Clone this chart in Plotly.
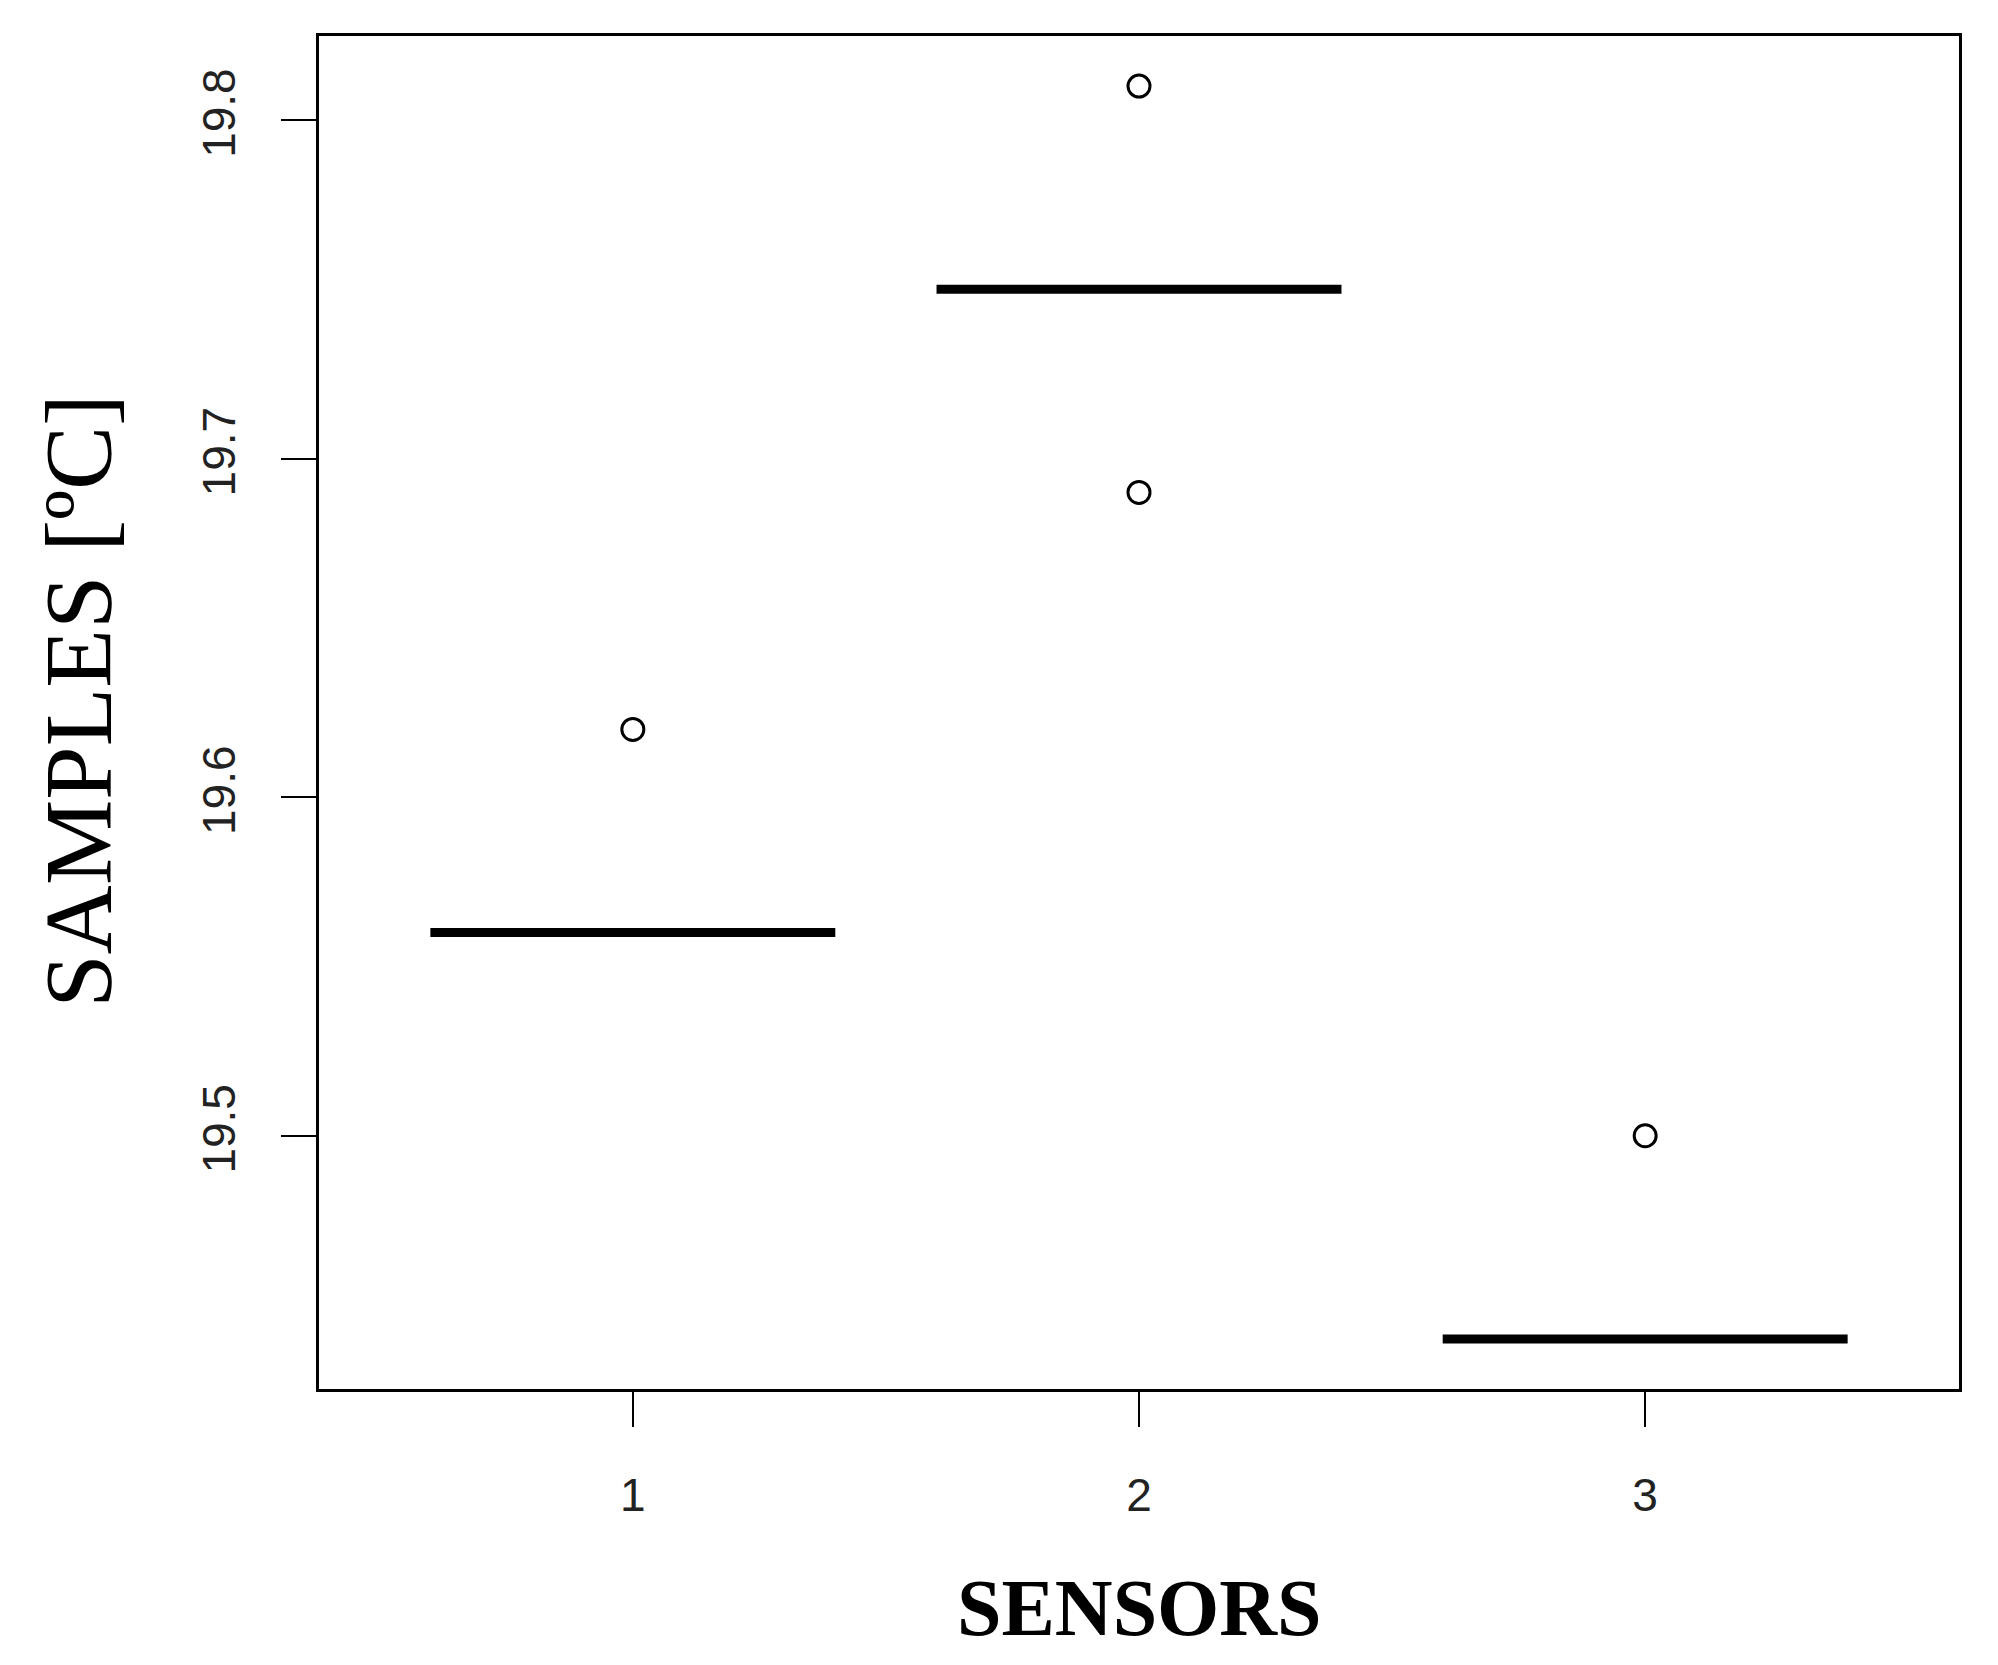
import plotly.graph_objects as go

sensors = [1, 2, 3]
medians = [19.56, 19.75, 19.44]
outlier_x = [1, 2, 2, 3]
outlier_y = [19.62, 19.81, 19.69, 19.50]
y_ticks = [19.5, 19.6, 19.7, 19.8]
x_ticks = [1, 2, 3]
box_half = 0.4

fig = go.Figure()

for s, m in zip(sensors, medians):
    fig.add_trace(go.Scatter(
        x=[s - box_half, s + box_half], y=[m, m], mode="lines",
        line=dict(color="black", width=9), showlegend=False, hoverinfo="skip"))

fig.add_trace(go.Scatter(
    x=outlier_x, y=outlier_y, mode="markers",
    marker=dict(symbol="circle-open", size=22, color="black", line=dict(width=3, color="black")),
    showlegend=False))

ymin = min(min(medians), min(outlier_y))
ymax = max(max(medians), max(outlier_y))
pad = 0.04 * (ymax - ymin)
xpad = 0.04 * (len(sensors))

fig.update_layout(
    width=1982, height=1649,
    margin=dict(l=311, r=31, t=28, b=268),
    plot_bgcolor="white", paper_bgcolor="white",
    font=dict(family="Liberation Sans, Arial", color="black"),
    xaxis=dict(
        range=[0.5 - xpad, len(sensors) + 0.5 + xpad],
        tickvals=x_ticks, ticktext=[str(v) for v in x_ticks],
        ticks="outside", ticklen=35, tickwidth=2, tickcolor="black",
        showline=True, mirror=True, linecolor="black", linewidth=3,
        showgrid=False, zeroline=False,
        tickfont=dict(size=46, family="Liberation Sans, Arial", color="#222"),
        ticklabelstandoff=29,
    ),
    yaxis=dict(
        range=[ymin - pad, ymax + pad],
        tickvals=y_ticks, ticktext=[f"{v:.1f}" for v in y_ticks],
        ticks="outside", ticklen=35, tickwidth=2, tickcolor="black",
        showline=True, mirror=True, linecolor="black", linewidth=3,
        showgrid=False, zeroline=False, tickangle=-90,
        tickfont=dict(size=46, family="Liberation Sans, Arial", color="#222"),
        ticklabelstandoff=28,
    ),
    annotations=[
        dict(text="<b>SENSORS</b>", xref="paper", yref="paper", x=0.5, y=-0.162,
             xanchor="center", yanchor="middle", showarrow=False,
             font=dict(family="Liberation Serif, Times New Roman", size=80, color="black")),
        dict(text="SAMPLES [ºC]", xref="paper", yref="paper", x=-0.1463, y=0.5087,
             xanchor="center", yanchor="middle", showarrow=False, textangle=-90,
             font=dict(family="Liberation Serif, Times New Roman", size=96, color="black")),
    ],
)

fig.write_html("out.html")
